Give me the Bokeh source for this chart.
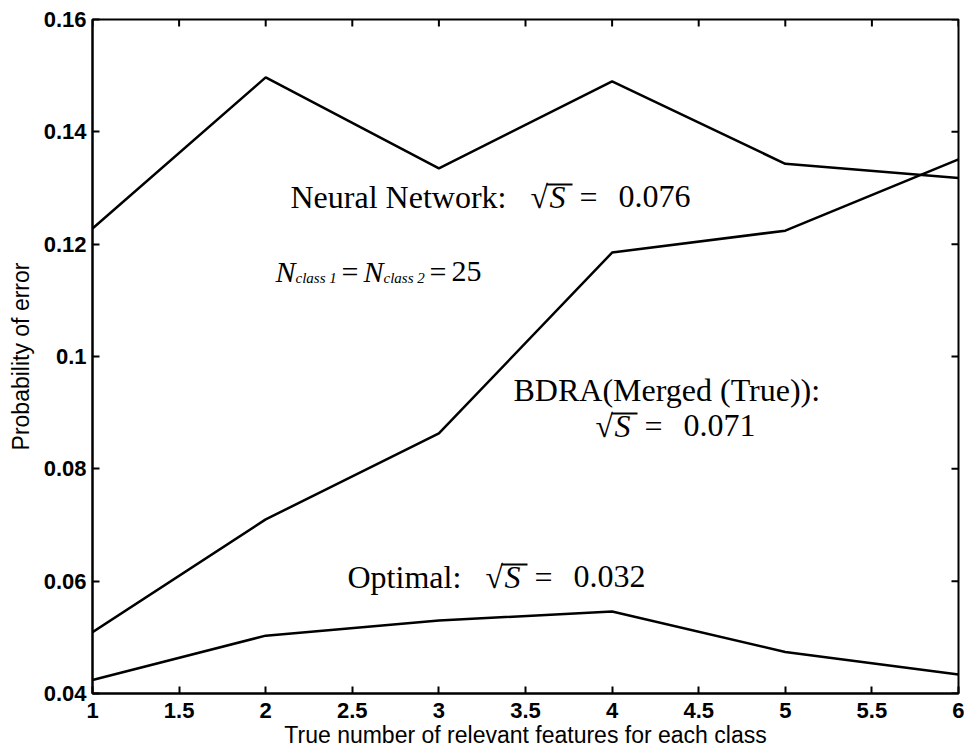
from bokeh.plotting import figure
from bokeh.models import Range1d, FixedTicker, Label, BoxAnnotation
from bokeh.embed import file_html
from bokeh.resources import INLINE

# number of relevant features per class
features = [1, 2, 3, 4, 5, 6]

# probability of error for each classifier
neural_network = [0.1228, 0.1497, 0.1335, 0.1490, 0.1343, 0.1318]
bdra_merged = [0.0509, 0.0710, 0.0863, 0.1185, 0.1224, 0.1351]
optimal = [0.0424, 0.0503, 0.0530, 0.0546, 0.0474, 0.0434]

x_ticks = [1, 1.5, 2, 2.5, 3, 3.5, 4, 4.5, 5, 5.5, 6]
x_tick_labels = ["1", "1.5", "2", "2.5", "3", "3.5", "4", "4.5", "5", "5.5", "6"]
y_ticks = [0.04, 0.06, 0.08, 0.10, 0.12, 0.14, 0.16]
y_tick_labels = ["0.04", "0.06", "0.08", "0.1", "0.12", "0.14", "0.16"]

X_MIN, X_MAX = 1, 6
Y_MIN, Y_MAX = 0.04, 0.16

W, H = 964, 751
LEFT, RIGHT, TOP, BOTTOM = 92, 958, 19, 693
TICK = 7  # inward tick length, px

p = figure(
    width=W, height=H,
    x_range=Range1d(X_MIN, X_MAX), y_range=Range1d(Y_MIN, Y_MAX),
    output_backend="svg", toolbar_location=None,
    min_border_left=LEFT, min_border_right=W - RIGHT,
    min_border_top=TOP, min_border_bottom=H - BOTTOM,
    background_fill_color="white", border_fill_color="white",
)
p.xgrid.visible = False
p.ygrid.visible = False
p.outline_line_color = "black"
p.outline_line_width = 2

sans = "Liberation Sans"
serif = "Liberation Serif"


def to_x(px):
    return X_MIN + (px - LEFT) / (RIGHT - LEFT) * (X_MAX - X_MIN)


def to_y(py):
    return Y_MAX - (py - TOP) / (BOTTOM - TOP) * (Y_MAX - Y_MIN)


for ax, ticks, labels in ((p.xaxis[0], x_ticks, x_tick_labels),
                          (p.yaxis[0], y_ticks, y_tick_labels)):
    ax.ticker = FixedTicker(ticks=ticks)
    ax.major_label_overrides = {t: s for t, s in zip(ticks, labels)}
    ax.minor_tick_line_color = None
    ax.major_tick_in = TICK
    ax.major_tick_out = 0
    ax.major_tick_line_width = 2
    ax.major_tick_line_color = "black"
    ax.axis_line_width = 2
    ax.axis_line_color = "black"
    ax.major_label_text_font = sans
    ax.major_label_text_font_size = "22px"
    ax.major_label_text_font_style = "bold"
    ax.major_label_text_color = "black"
    ax.axis_label_text_font = sans
    ax.axis_label_text_font_size = "23px"
    ax.axis_label_text_font_style = "normal"
    ax.axis_label_text_color = "black"

p.xaxis[0].major_label_standoff = 9
p.yaxis[0].major_label_standoff = 6
p.xaxis[0].axis_label = "True number of relevant features for each class"
p.yaxis[0].axis_label = "Probability of error"
p.xaxis[0].axis_label_standoff = 1
p.yaxis[0].axis_label_standoff = 7

# box ticks along the top and right edges of the frame
dy = TICK / (BOTTOM - TOP) * (Y_MAX - Y_MIN)
dx = TICK / (RIGHT - LEFT) * (X_MAX - X_MIN)
p.segment(x0=x_ticks, x1=x_ticks, y0=[Y_MAX] * len(x_ticks), y1=[Y_MAX - dy] * len(x_ticks),
          line_color="black", line_width=2)
p.segment(x0=[X_MAX] * len(y_ticks), x1=[X_MAX - dx] * len(y_ticks), y0=y_ticks, y1=y_ticks,
          line_color="black", line_width=2)

for series in (neural_network, bdra_merged, optimal):
    p.line(features, series, line_color="black", line_width=2.5)

SHIFT = 12  # label baseline correction, px


def piece(text, px, py, size=32, style="normal"):
    p.add_layout(Label(
        x=to_x(px), y=to_y(py - SHIFT), text=text,
        text_font=serif, text_font_size=f"{size}px", text_font_style=style,
        text_align="left", text_baseline="alphabetic", text_color="black",
    ))


def root_s(px, py, value):
    # "√S = value" with an italic S under the radical bar
    piece("√", px, py)
    piece("S", px + 19, py, style="italic")
    p.add_layout(BoxAnnotation(
        left=to_x(px + 16), right=to_x(px + 42),
        top=to_y(py - 25), bottom=to_y(py - 23),
        fill_color="black", fill_alpha=1, line_color=None,
    ))
    piece("=", px + 49, py)
    piece(value, px + 88, py)


piece("Neural Network:", 290, 208)
root_s(530, 208, "0.076")

piece("BDRA(Merged (True)):", 513, 401)
root_s(595, 437, "0.071")

piece("Optimal:", 347, 588)
root_s(485, 588, "0.032")

# N_class 1 = N_class 2 = 25
piece("N", 275, 283, size=30, style="italic")
piece("class 1", 295, 289, size=15, style="italic")
piece("=", 341, 283, size=30)
piece("N", 363, 283, size=30, style="italic")
piece("class 2", 383, 289, size=15, style="italic")
piece("=", 429, 283, size=30)
piece("25", 451, 283, size=30)

open("out.html", "w").write(file_html(p, INLINE))
